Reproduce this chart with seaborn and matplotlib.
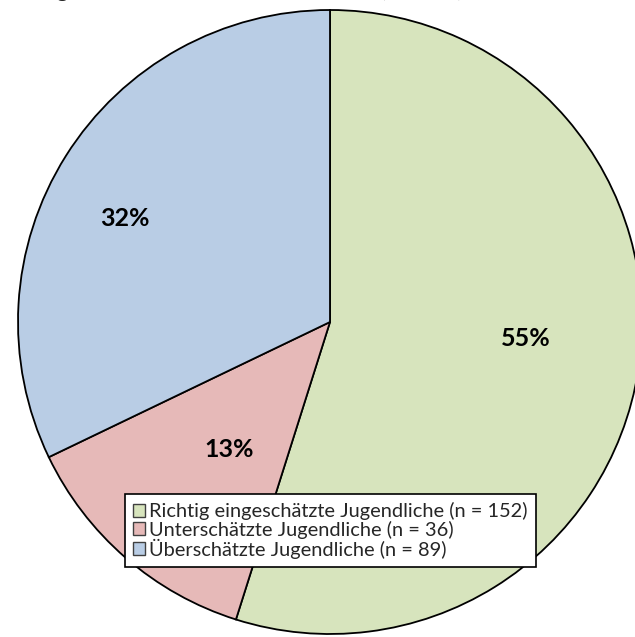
import matplotlib
matplotlib.use("Agg")
import matplotlib.pyplot as plt
import seaborn as sns
import numpy as np

# Data
categories = [
    "Richtig eingeschätzte Jugendliche (n = 152)",
    "Unterschätzte Jugendliche (n = 36)",
    "Überschätzte Jugendliche (n = 89)",
]
counts = [152, 36, 89]
colors = ["#D7E4BD", "#E6B9B8", "#B9CDE5"]
title_text = "Einschätzung der Lehrkräfte, alle Schülerinnen (n = 277)"

sns.set_theme(style="white")
plt.rcParams["font.family"] = ["Lato", "DejaVu Sans"]

W, H = 635, 637
fig = plt.figure(figsize=(W / 100, H / 100), dpi=100)

cx, cy, r = 330, 322, 312
ax = fig.add_axes([(cx - r) / W, (H - cy - r) / H, 2 * r / W, 2 * r / H])

wedges, texts, autotexts = ax.pie(
    counts,
    colors=sns.color_palette(colors),
    startangle=90,
    counterclock=False,
    radius=1,
    autopct=lambda p: f"{p:.0f}%",
    pctdistance=0.6,
    wedgeprops=dict(edgecolor="black", linewidth=1.3),
    textprops=dict(fontsize=18, fontweight="bold", color="black"),
)

# Per-slice label placement (distance from centre and angle offset in degrees)
label_dist = [0.63, 0.515, 0.74]
label_offset = [4.4, 2.2, 5.1]
for w, t, d, off in zip(wedges, autotexts, label_dist, label_offset):
    ang = np.deg2rad((w.theta1 + w.theta2) / 2 + off)
    t.set_position((d * np.cos(ang), d * np.sin(ang)))
    t.set_va("center_baseline")

ax.set_xlim(-1, 1)
ax.set_ylim(-1, 1)
ax.set_axis_off()

leg = ax.legend(
    wedges, categories,
    loc="upper left",
    bbox_to_anchor=(125 / W, 1 - 494 / H),
    bbox_transform=fig.transFigure,
    fontsize=14.4,
    frameon=True,
    fancybox=False,
    framealpha=1,
    edgecolor="black",
    handlelength=0.6,
    handleheight=0.6,
    handletextpad=0.2,
    labelspacing=0.0,
    borderpad=0.42,
    borderaxespad=0,
)
leg.get_frame().set_linewidth(1.2)
for h in leg.legend_handles:
    h.set_edgecolor("#404040")
    h.set_linewidth(1.0)

# Chart title, sitting mostly above the top edge of the canvas
fig.text(463 / W, 1 + 3 / H, title_text, ha="right", va="baseline",
         fontsize=15, fontweight="bold")

fig.savefig("out.png", dpi=100)
